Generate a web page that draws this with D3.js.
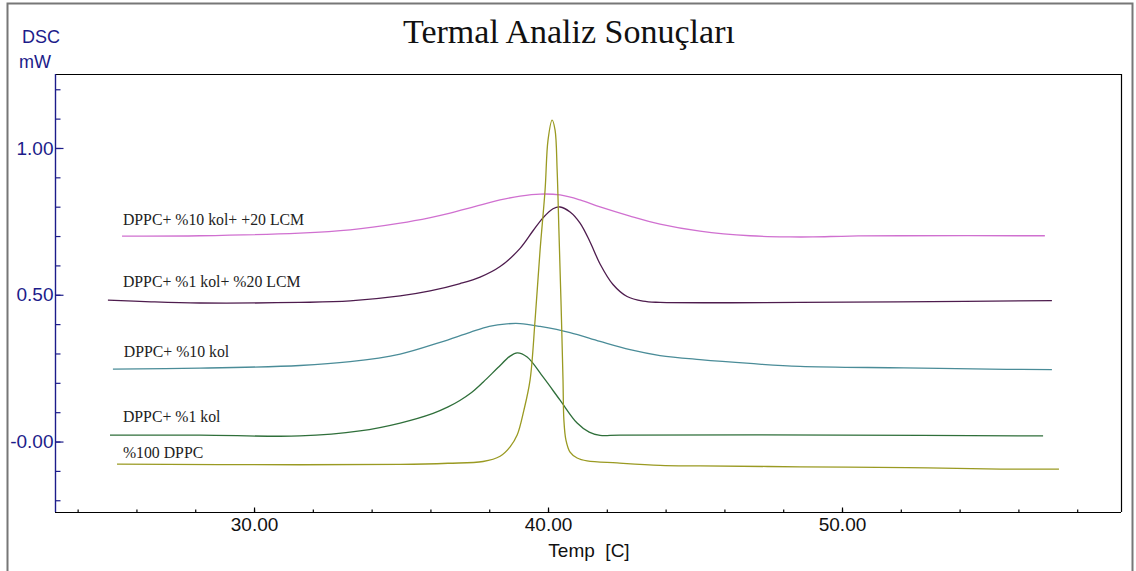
<!DOCTYPE html>
<html>
<head>
<meta charset="utf-8">
<script src="https://cdn.jsdelivr.net/npm/d3@7"></script>
<style>
  body { margin: 0; background: #fff; }
  svg { display: block; }
</style>
</head>
<body>
<svg id="chart" width="1136" height="571"></svg>
<script>
// DSC thermal curves, [temp C, mW]
var magenta = [[25.51,0.700],[28.16,0.701],[31.56,0.710],[33.27,0.721],[34.97,0.744],[36.0,0.763],[36.67,0.778],[37.5,0.800],[38.37,0.823],[39.05,0.836],[39.73,0.843],[40.41,0.840],[41.09,0.823],[41.77,0.799],[42.79,0.768],[43.81,0.741],[45.17,0.717],[46.87,0.701],[48.23,0.697],[49.01,0.697],[50.27,0.700],[52.0,0.701],[56.90,0.701]];
var purple = [[25.03,0.482],[26.5,0.476],[28.16,0.472],[31.56,0.474],[33.27,0.479],[34.97,0.496],[35.99,0.513],[37.01,0.538],[37.69,0.560],[38.37,0.596],[39.05,0.658],[39.49,0.718],[39.83,0.762],[40.17,0.793],[40.41,0.799],[40.75,0.782],[41.09,0.744],[41.43,0.680],[41.77,0.605],[42.21,0.535],[42.69,0.494],[43.23,0.478],[43.81,0.474],[48.57,0.474],[51.9,0.476],[57.14,0.480]];
var teal = [[25.20,0.247],[28.16,0.250],[31.56,0.259],[33.27,0.272],[34.97,0.298],[36.33,0.338],[37.35,0.372],[38.0,0.392],[38.6,0.401],[39.05,0.402],[39.73,0.392],[40.75,0.371],[41.77,0.341],[42.79,0.313],[43.81,0.293],[45.17,0.279],[46.87,0.266],[48.57,0.256],[52.1,0.251],[55.6,0.246],[57.14,0.245]];
var green = [[25.10,0.022],[28.16,0.022],[31.56,0.019],[33.6,0.036],[34.97,0.063],[36.09,0.096],[36.6,0.118],[37.0,0.140],[37.4,0.167],[37.8,0.203],[38.3,0.252],[38.7,0.290],[38.95,0.302],[39.29,0.288],[39.83,0.220],[40.41,0.141],[40.99,0.063],[41.4,0.032],[41.77,0.021],[42.45,0.022],[50.0,0.022],[56.84,0.019]];
var olive = [[25.34,-0.077],[31.56,-0.079],[34.97,-0.078],[36.6,-0.074],[37.79,-0.068],[38.37,-0.050],[38.71,-0.018],[38.95,0.022],[39.18,0.107],[39.39,0.210],[39.56,0.414],[39.73,0.652],[39.90,0.857],[40.00,1.027],[40.14,1.095],[40.24,1.061],[40.31,0.925],[40.37,0.721],[40.44,0.482],[40.51,0.210],[40.54,0.073],[40.61,0.005],[40.75,-0.036],[40.99,-0.056],[41.33,-0.066],[42.35,-0.073],[43.81,-0.081],[45.17,-0.083],[48.57,-0.086],[52.2,-0.089],[55.4,-0.094],[57.38,-0.094]];

var seriesData = [magenta, purple, teal, green, olive];
var seriesColors = ["#d070d0", "#4e1c4e", "#4a8c98", "#2f6f3a", "#9a9a22"];
var seriesNames = ["DPPC+ %10 kol+ +20 LCM", "DPPC+ %1 kol+ %20 LCM", "DPPC+ %10 kol", "DPPC+ %1 kol", "%100 DPPC"];
// label anchor, [temp, mW]
var labelPos = [[25.54,0.739], [25.54,0.526], [25.57,0.288], [25.54,0.067], [25.54,-0.056]];

var xMajor = [30, 40, 50];
var xMajorLabels = ["30.00", "40.00", "50.00"];
var yMajor = [0, 0.5, 1.0];
var yMajorLabels = ["-0.00", "0.50", "1.00"];

var svg = d3.select("#chart");
var pLeft = 55, pRight = 1121, pTop = 74, pBottom = 512;
var sans = "'Liberation Sans', Arial, sans-serif";
var serif = "'Liberation Serif', 'Times New Roman', serif";

var x = d3.scaleLinear().domain([23.23, 59.49]).range([pLeft, pRight]);
var y = d3.scaleLinear().domain([-0.24, 1.252]).range([pBottom, pTop]);

svg.append("rect").attr("width", 1136).attr("height", 571).attr("fill", "#fff");

// outer frame
svg.append("rect").attr("x", 7.5).attr("y", 3.5).attr("width", 1125).attr("height", 620)
  .attr("fill", "none").attr("stroke", "#777").attr("stroke-width", 2);

// title + unit label
svg.append("text").attr("x", 569).attr("y", 43).attr("text-anchor", "middle")
  .style("font-family", serif).style("font-size", "34px")
  .attr("fill", "#111").text("Termal Analiz Sonuçları");
svg.append("text").attr("x", 22).attr("y", 43)
  .style("font-family", sans).style("font-size", "18px")
  .attr("fill", "#1c1c8a").text("DSC");
svg.append("text").attr("x", 19).attr("y", 68)
  .style("font-family", sans).style("font-size", "18px")
  .attr("fill", "#1c1c8a").text("mW");

// top and right box lines
svg.append("line").attr("x1", pLeft).attr("x2", pRight).attr("y1", pTop + 0.5).attr("y2", pTop + 0.5)
  .attr("stroke", "#000").attr("stroke-width", 1.2);
svg.append("line").attr("x1", pRight + 0.5).attr("x2", pRight + 0.5).attr("y1", pTop).attr("y2", pBottom)
  .attr("stroke", "#000").attr("stroke-width", 1.2);

// y axis
var yMinor = svg.append("g").attr("transform", "translate(" + (pLeft + 0.5) + ",0)")
  .call(d3.axisLeft(y).tickValues(d3.range(-2, 13).map(function(d){ return d / 10; })).tickSize(-5).tickFormat(""));
var yAxis = svg.append("g").attr("transform", "translate(" + (pLeft + 0.5) + ",0)")
  .call(d3.axisLeft(y).tickValues(yMajor).tickSize(-8).tickPadding(2)
    .tickFormat(function(d, i){ return yMajorLabels[i]; }));
[yMinor, yAxis].forEach(function(g){
  g.select(".domain").attr("d", "M0," + pTop + "V" + pBottom);
  g.selectAll("line, path").attr("stroke", "#1c1c8a").attr("stroke-width", 1.2);
});
yAxis.selectAll("text").attr("fill", "#1c1c8a")
  .style("font-family", sans).style("font-size", "19px");

// x axis
var xMinor = svg.append("g").attr("transform", "translate(0," + (pBottom + 0.5) + ")")
  .call(d3.axisBottom(x).tickValues(d3.range(24, 60, 2)).tickSize(-3).tickFormat(""));
var xAxis = svg.append("g").attr("transform", "translate(0," + (pBottom + 0.5) + ")")
  .call(d3.axisBottom(x).tickValues(xMajor).tickSize(-5).tickPadding(5)
    .tickFormat(function(d, i){ return xMajorLabels[i]; }));
[xMinor, xAxis].forEach(function(g){
  g.select(".domain").attr("d", "M" + pLeft + ",0H" + pRight);
  g.selectAll("line, path").attr("stroke", "#000").attr("stroke-width", 1.2);
});
xAxis.selectAll("text").attr("fill", "#111")
  .style("font-family", sans).style("font-size", "19px");

svg.append("text").attr("x", 589).attr("y", 557).attr("text-anchor", "middle")
  .style("font-family", sans).style("font-size", "19px")
  .style("white-space", "pre").attr("fill", "#111").text("Temp  [C]");

// curves
var line = d3.line()
  .x(function(d){ return x(d[0]); })
  .y(function(d){ return y(d[1]); })
  .curve(d3.curveCatmullRom.alpha(0.5));

seriesData.forEach(function(s, i){
  svg.append("path").datum(s).attr("d", line)
    .attr("fill", "none").attr("stroke", seriesColors[i]).attr("stroke-width", 1.3);
  svg.append("text").attr("x", x(labelPos[i][0])).attr("y", y(labelPos[i][1]))
    .style("font-family", serif).style("font-size", "15.8px")
    .attr("fill", "#222").text(seriesNames[i]);
});
</script>
</body>
</html>
